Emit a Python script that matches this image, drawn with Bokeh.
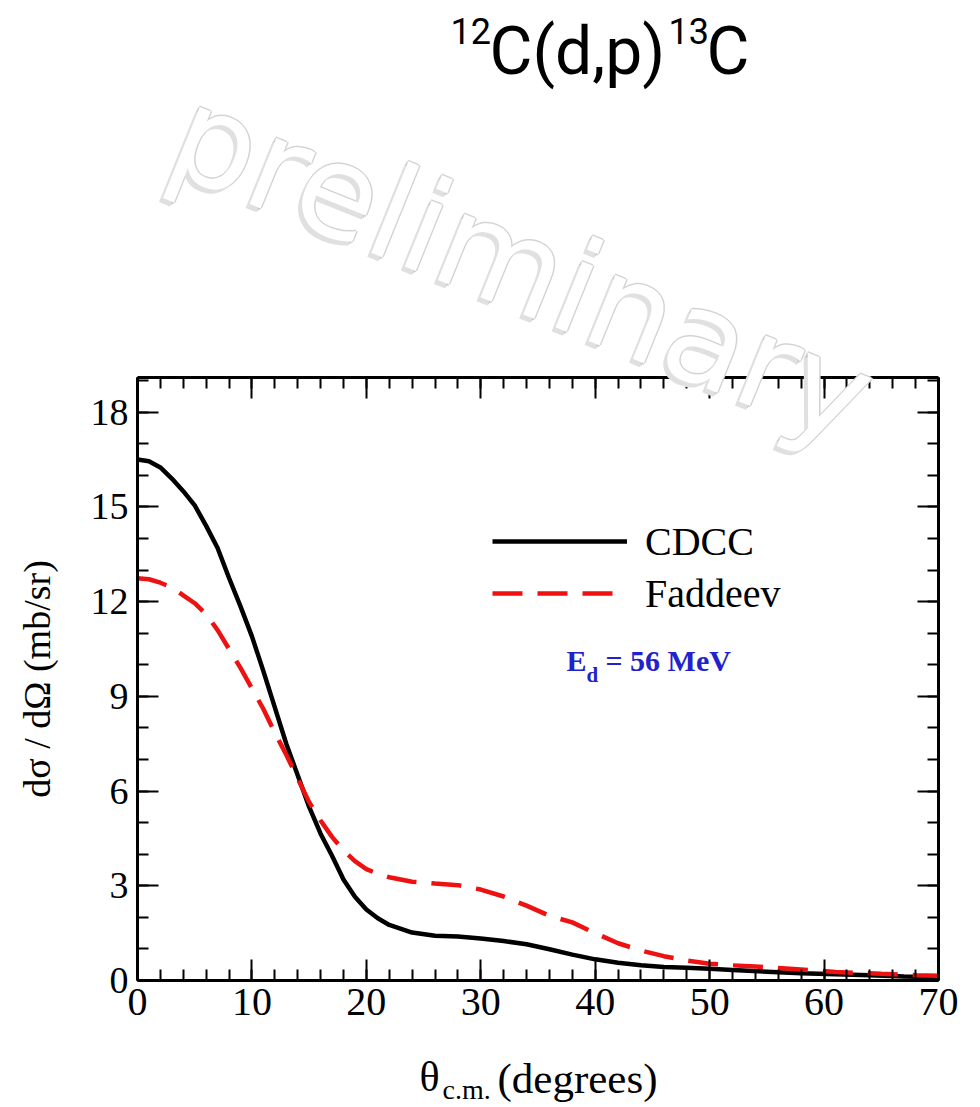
import math
from bokeh.plotting import figure
from bokeh.models import (Range1d, FixedTicker, LinearAxis, Label, Legend,
                          LegendItem, CustomJSTickFormatter)
from bokeh.embed import file_html
from bokeh.resources import INLINE

# ---------------- data ----------------
theta_cdcc = [0, 1, 2, 3, 4, 5, 6, 7, 8, 9, 10, 11, 12, 13, 14, 15, 16, 17, 18, 19, 20, 21, 22,
              24, 26, 28, 30, 32, 34, 36, 38, 40, 42, 44, 46, 48, 50, 52, 55, 58, 61, 64, 67, 70]
sigma_cdcc = [16.5, 16.45, 16.25, 15.9, 15.5, 15.05, 14.4, 13.7, 12.75, 11.85, 10.9, 9.8, 8.65,
              7.5, 6.5, 5.5, 4.65, 3.95, 3.2, 2.65, 2.25, 1.97, 1.76, 1.52, 1.42, 1.39, 1.33,
              1.25, 1.15, 0.99, 0.82, 0.67, 0.56, 0.48, 0.43, 0.40, 0.37, 0.33, 0.28, 0.23,
              0.20, 0.17, 0.13, 0.10]
theta_fad = [0, 1, 2, 3, 4, 5, 6, 7, 8, 9, 10, 11, 12, 13, 14, 15, 16, 17, 18, 19, 20, 21, 22,
             24, 26, 28, 30, 32, 34, 36, 38, 40, 42, 44, 46, 48, 50, 52, 54, 57, 61, 65, 68, 70]
sigma_fad = [12.74, 12.71, 12.6, 12.45, 12.2, 11.95, 11.6, 11.1, 10.5, 9.9, 9.25, 8.6, 7.85,
             7.15, 6.4, 5.65, 5.07, 4.55, 4.12, 3.78, 3.53, 3.38, 3.27, 3.13, 3.07, 3.02, 2.88,
             2.66, 2.37, 2.05, 1.84, 1.5, 1.18, 0.95, 0.77, 0.63, 0.53, 0.48, 0.44, 0.37, 0.27,
             0.21, 0.17, 0.15]
series_names = ["CDCC", "Faddeev"]
x_major = [0, 10, 20, 30, 40, 50, 60, 70]
x_minor = list(range(0, 71, 2))
y_major = [0, 3, 6, 9, 12, 15, 18]
y_minor = list(range(0, 20, 1))
x_limits = (0, 70)
y_limits = (0, 19.1)

# ---------------- layout (page pixels of the plot box) ----------------
W, H = 980, 1107
BOX_L, BOX_R, BOX_T, BOX_B = 137, 938, 377, 980

kx = (BOX_R - BOX_L) / (x_limits[1] - x_limits[0])
ky = (BOX_B - BOX_T) / (y_limits[1] - y_limits[0])
x_range = Range1d(x_limits[0] - BOX_L / kx, x_limits[1] + (W - BOX_R) / kx)
y_range = Range1d(y_limits[0] - (H - BOX_B) / ky, y_limits[1] + BOX_T / ky)

SERIF = "Liberation Serif"
SANS = "Roboto"
K_SERIF = 0.27   # empirical baseline correction (fraction of font size)
K_SANS = 0.17


def sx(X):
    return X


def sy(Y, size=0.0, k=K_SERIF):
    # page baseline Y -> screen units (from bottom), corrected for text placement
    return H - (Y - k * size)


p = figure(width=W, height=H, output_backend="svg", toolbar_location=None,
           x_range=x_range, y_range=y_range,
           min_border_left=0, min_border_right=0, min_border_top=0, min_border_bottom=0,
           x_axis_location=None, y_axis_location=None)
p.title.visible = False
p.xgrid.visible = False
p.ygrid.visible = False
p.outline_line_color = None
p.background_fill_color = "white"
p.border_fill_color = "white"


def style_axis(ax, show_labels):
    ax.axis_line_width = 3
    ax.axis_line_color = "black"
    ax.major_tick_in = 21
    ax.major_tick_out = 0
    ax.minor_tick_in = 11
    ax.minor_tick_out = 0
    ax.major_tick_line_width = 2
    ax.minor_tick_line_width = 2
    ax.major_tick_line_color = "black"
    ax.minor_tick_line_color = "black"
    ax.major_label_text_font = SERIF
    ax.major_label_text_font_size = "40px"
    ax.major_label_text_color = "black"
    if not show_labels:
        ax.formatter = CustomJSTickFormatter(code="return ''")
        ax.major_label_standoff = 0


xb = LinearAxis(ticker=FixedTicker(ticks=x_major, minor_ticks=x_minor),
                fixed_location=y_limits[0], bounds=x_limits)
style_axis(xb, True)
xb.major_label_standoff = 8
p.add_layout(xb, "below")

xt = LinearAxis(ticker=FixedTicker(ticks=x_major, minor_ticks=x_minor),
                fixed_location=y_limits[1], bounds=x_limits)
style_axis(xt, False)
p.add_layout(xt, "above")

yl = LinearAxis(ticker=FixedTicker(ticks=y_major, minor_ticks=y_minor),
                fixed_location=x_limits[0], bounds=y_limits)
style_axis(yl, True)
yl.major_label_standoff = 9
yl.major_label_text_font_size = "38px"
yl.axis_label = "dσ / dΩ (mb/sr)"
yl.axis_label_text_font = SERIF
yl.axis_label_text_font_size = "38px"
yl.axis_label_text_font_style = "normal"
yl.axis_label_text_color = "black"
yl.axis_label_standoff = 30
p.add_layout(yl, "left")

yr = LinearAxis(ticker=FixedTicker(ticks=y_major, minor_ticks=y_minor),
                fixed_location=x_limits[1], bounds=y_limits)
style_axis(yr, False)
p.add_layout(yr, "right")

# ---------------- curves ----------------
r1 = p.line(theta_cdcc, sigma_cdcc, line_color="black", line_width=4.5)
r2 = p.line(theta_fad, sigma_fad, line_color="#ee1111", line_width=4.5, line_dash="30 15")

legend = Legend(items=[LegendItem(label=series_names[0], renderers=[r1]),
                       LegendItem(label=series_names[1], renderers=[r2])],
                location=(sx(492), H - 619), orientation="vertical",
                glyph_width=135, glyph_height=52, label_height=52, spacing=0,
                label_standoff=18, padding=0, margin=0,
                border_line_color=None, background_fill_alpha=0,
                label_text_font=SERIF, label_text_font_size="40px",
                label_text_color="black")
p.add_layout(legend)


def add_text(text, X, Y, size, font=SERIF, k=K_SERIF, color="black", style="normal",
             level="annotation"):
    p.add_layout(Label(x=sx(X), y=sy(Y, size, k), x_units="screen", y_units="screen",
                       text=text, text_font=font, text_font_size=f"{size}px",
                       text_font_style=style, text_color=color,
                       text_baseline="alphabetic", level=level))


# E_d = 56 MeV
blue = "#2222cc"
add_text("E", 566, 668, 30, color=blue, style="bold")
add_text("d", 586, 680, 21, color=blue, style="bold")
add_text("= 56 MeV", 605, 668, 30, color=blue, style="bold")

# x axis label: theta_c.m. (degrees)
add_text("θ", 419, 1088, 42)
add_text("c.m.", 442, 1097, 28)
add_text("(degrees)", 497, 1090, 43)

# title 12C(d,p)13C
add_text("12", 450, 37, 36, font=SANS, k=K_SANS, level="overlay")
add_text("C(d,p)", 489, 62, 66, font=SANS, k=K_SANS, level="overlay")
add_text("13", 668, 37, 36, font=SANS, k=K_SANS, level="overlay")
add_text("C", 706, 62, 66, font=SANS, k=K_SANS, level="overlay")

# watermark "preliminary" (white with soft grey shadow)
wm_x, wm_y = 522, H - 265
wm_angle = -22 * math.pi / 180
halo = [((1.5, 0), "#d3d3d3"), ((-1.5, 0), "#d3d3d3"), ((0, 1.5), "#d3d3d3"),
        ((0, -1.5), "#d3d3d3"), ((-2, -2), "#c2c2c2"), ((-3, -3), "#cccccc"),
        ((-4, -4), "#e0e0e0")]
for (dx, dy), col in halo:
    p.add_layout(Label(x=wm_x + dx, y=wm_y + dy, x_units="screen", y_units="screen",
                       text="preliminary", text_font="DejaVu Sans", text_font_size="130px",
                       text_color=col, text_align="center", text_baseline="middle",
                       angle=wm_angle, level="overlay"))
p.add_layout(Label(x=wm_x, y=wm_y, x_units="screen", y_units="screen",
                   text="preliminary", text_font="DejaVu Sans", text_font_size="130px",
                   text_color="white", text_align="center", text_baseline="middle",
                   angle=wm_angle, level="overlay"))

open("out.html", "w").write(file_html(p, INLINE))
